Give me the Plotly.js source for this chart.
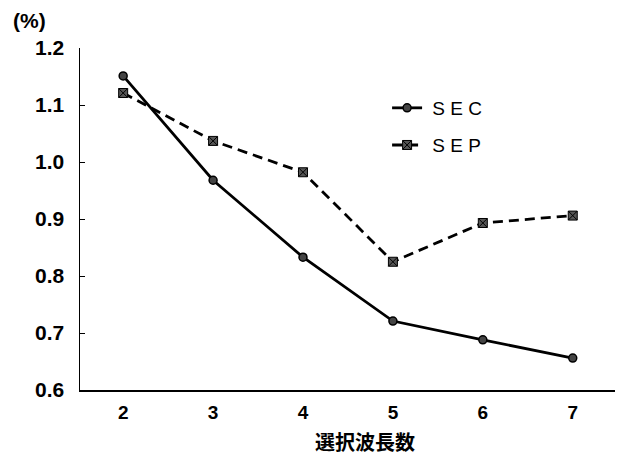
<!DOCTYPE html>
<html>
<head>
<meta charset="utf-8">
<script src="https://cdn.plot.ly/plotly-3.0.1.min.js"></script>
<style>html,body{margin:0;padding:0;background:#fff;}#chart{width:626px;height:459px;}</style>
</head>
<body>
<div id="chart"></div>
<script>
const categories = [2, 3, 4, 5, 6, 7];
const secValues = [1.151, 0.968, 0.833, 0.721, 0.688, 0.656];
const sepValues = [1.121, 1.037, 0.982, 0.825, 0.893, 0.906];
const yTickValues = [0.6, 0.7, 0.8, 0.9, 1.0, 1.1, 1.2];
const seriesNames = [" S E C", " S E P"];
const xTitle = "選択波長数";
const yUnit = "(%)";

const traces = [
  {
    x: categories, y: secValues, name: seriesNames[0], type: 'scatter', mode: 'lines+markers',
    line: {color: '#000', width: 2.8},
    marker: {symbol: 'circle', size: 8, color: '#444', line: {color: '#000', width: 1.5}},
    legend: 'legend'
  },
  {
    x: categories, y: sepValues, name: seriesNames[1], type: 'scatter', mode: 'lines+markers',
    line: {color: '#000', width: 2.8, dash: '10px,6px'},
    marker: {symbol: 'square-x', size: 9, color: '#555', line: {color: '#000', width: 1}},
    legend: 'legend2'
  }
];

const fontFam = 'Liberation Sans, Arial, sans-serif';
const layout = {
  width: 626, height: 459,
  margin: {l: 80, r: 11, t: 48, b: 69},
  paper_bgcolor: '#fff', plot_bgcolor: '#fff',
  font: {family: fontFam, color: '#000'},
  xaxis: {
    range: [1.52, 7.47], tickvals: categories, ticktext: categories.map(String),
    showgrid: false, zeroline: false, showline: true, linecolor: '#000', linewidth: 1.5,
    ticks: '', ticklabelstandoff: 5,
    tickfont: {size: 19, family: fontFam, weight: 'bold'}
  },
  yaxis: {
    range: [0.6, 1.2], tickvals: yTickValues, tickformat: '.1f',
    showgrid: false, zeroline: false, showline: true, linecolor: '#000', linewidth: 1.5,
    ticks: 'inside', ticklen: 5, tickwidth: 1, tickcolor: '#000', ticklabelstandoff: 10,
    tickfont: {size: 21, family: fontFam, weight: 'bold'}
  },
  showlegend: true,
  legend: {x: 0.574, y: 0.8246, xanchor: 'left', yanchor: 'middle', bgcolor: 'rgba(0,0,0,0)',
    font: {size: 19, family: fontFam}},
  legend2: {x: 0.574, y: 0.716, xanchor: 'left', yanchor: 'middle', bgcolor: 'rgba(0,0,0,0)',
    font: {size: 19, family: fontFam}},
  annotations: [
    {text: yUnit, xref: 'paper', yref: 'paper', x: -0.095, y: 1.08, xanchor: 'center', yanchor: 'middle',
      showarrow: false, font: {size: 21, family: fontFam, weight: 'bold'}},
    {text: xTitle, xref: 'paper', yref: 'paper', x: 0.533, y: -0.15, xanchor: 'center', yanchor: 'middle',
      showarrow: false, font: {size: 20, family: 'Noto Sans CJK JP, sans-serif', weight: 'bold'}}
  ]
};

Plotly.newPlot('chart', traces, layout, {displayModeBar: false, staticPlot: true});
</script>
</body>
</html>
